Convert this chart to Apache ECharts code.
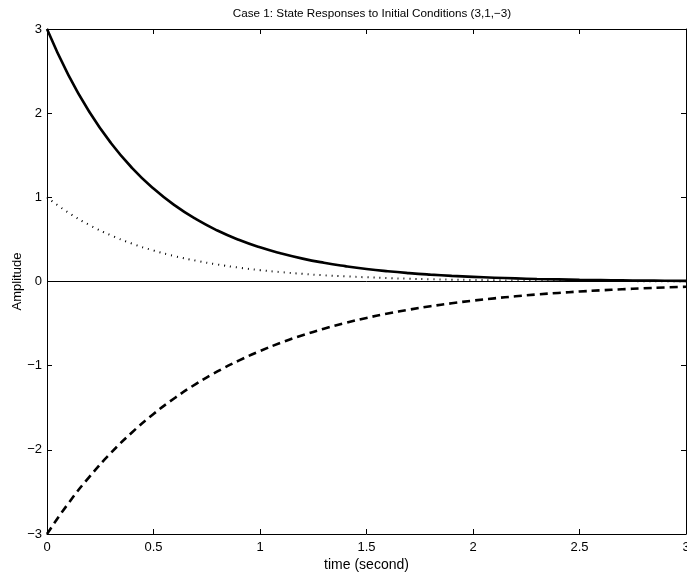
<!DOCTYPE html>
<html>
<head>
<meta charset="utf-8">
<script src="https://cdn.jsdelivr.net/npm/echarts@6/dist/echarts.min.js"></script>
<style>html,body{margin:0;padding:0;background:#fff;overflow:hidden}#c{width:687px;height:576px}</style>
</head>
<body>
<div id="c"></div>
<script>
var times = [0,0.1,0.2,0.3,0.4,0.5,0.6,0.7,0.8,0.9,1.0,1.1,1.2,1.3,1.4,1.5,1.6,1.7,1.8,1.9,2.0,2.1,2.2,2.3,2.4,2.5,2.6,2.7,2.8,2.9,3.0];
var state1 = [3,2.456,2.011,1.646,1.348,1.104,0.904,0.740,0.606,0.496,0.406,0.333,0.272,0.223,0.183,0.149,0.122,0.100,0.082,0.067,0.055,0.045,0.037,0.030,0.025,0.020,0.017,0.014,0.011,0.009,0.007];
var state2 = [1,0.819,0.670,0.549,0.449,0.368,0.301,0.247,0.202,0.165,0.135,0.111,0.091,0.074,0.061,0.050,0.041,0.033,0.027,0.022,0.018,0.015,0.012,0.010,0.008,0.007,0.006,0.005,0.004,0.003,0.002];
var state3 = [-3,-2.637,-2.318,-2.037,-1.791,-1.574,-1.384,-1.216,-1.069,-0.940,-0.826,-0.726,-0.638,-0.561,-0.493,-0.433,-0.381,-0.335,-0.294,-0.259,-0.227,-0.200,-0.176,-0.154,-0.136,-0.119,-0.105,-0.092,-0.081,-0.071,-0.063];
var xTicks = [0,0.5,1,1.5,2,2.5,3];
var yTicks = [-3,-2,-1,0,1,2,3];

function pairs(ys){ return times.map(function(t,i){return [t, ys[i]];}); }
var FONT = 'Liberation Sans, Arial, sans-serif';
function fmt(v){ return String(v).replace('-', '\u2212'); }
var axisLine = {show:true, onZero:false, lineStyle:{color:'#000', width:1}};
var tick = {show:true, inside:true, length:5, lineStyle:{color:'#000', width:1}};

var chart = echarts.init(document.getElementById('c'), null, {renderer:'canvas'});
chart.setOption({
  animation:false,
  backgroundColor:'#fff',
  title:{text:'Case 1: State Responses to Initial Conditions (3,1,\u22123)', left:367, textAlign:'center', top:3,
    textStyle:{fontFamily:FONT, fontSize:11.7, fontWeight:'normal', color:'#000'}},
  grid:{left:47, right:1, top:29, bottom:42, containLabel:false, outerBoundsMode:'none'},
  xAxis:[
    {type:'value', min:xTicks[0], max:xTicks[xTicks.length-1], interval:0.5, position:'bottom',
     name:'time (second)', nameLocation:'middle', nameGap:24, nameMoveOverlap:false,
     nameTextStyle:{fontFamily:FONT, fontSize:14, color:'#000'},
     axisLine:axisLine, axisTick:tick, splitLine:{show:false},
     axisLabel:{fontFamily:FONT, fontSize:13, color:'#000', margin:7, formatter:fmt}},
    {type:'value', min:xTicks[0], max:xTicks[xTicks.length-1], interval:0.5, position:'top',
     axisLine:axisLine, axisTick:tick, splitLine:{show:false}, axisLabel:{show:false}}
  ],
  yAxis:[
    {type:'value', min:yTicks[0], max:yTicks[yTicks.length-1], interval:1, position:'left',
     name:'Amplitude', nameLocation:'middle', nameGap:23, nameMoveOverlap:false,
     nameTextStyle:{fontFamily:FONT, fontSize:13, color:'#000'},
     axisLine:axisLine, axisTick:tick, splitLine:{show:false},
     axisLabel:{fontFamily:FONT, fontSize:13, color:'#000', margin:5, formatter:fmt}},
    {type:'value', min:yTicks[0], max:yTicks[yTicks.length-1], interval:1, position:'right',
     axisLine:axisLine, axisTick:tick, splitLine:{show:false}, axisLabel:{show:false}}
  ],
  series:[
    {type:'line', data:pairs(state1), smooth:true, symbol:'none',
     lineStyle:{color:'#000', width:2.6, type:'solid'},
     markLine:{silent:true, symbol:'none', label:{show:false},
       lineStyle:{color:'#000', width:1, type:'solid'}, data:[{yAxis:0}]}},
    {type:'line', data:pairs(state2), smooth:true, symbol:'none',
     lineStyle:{color:'#000', width:2, type:[1,5]}},
    {type:'line', data:pairs(state3), smooth:true, symbol:'none',
     lineStyle:{color:'#000', width:2.6, type:[8,5]}}
  ]
});
</script>
</body>
</html>
